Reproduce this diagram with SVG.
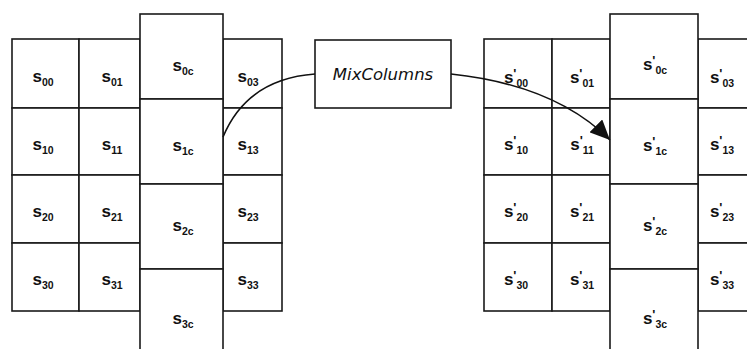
<svg xmlns="http://www.w3.org/2000/svg" width="747" height="349" viewBox="0 0 747 349">
<style>
.c{fill:#fff;stroke:#1a1a1a;stroke-width:1.6}
.t{font-family:"Liberation Sans",Arial,sans-serif;font-weight:bold;font-size:17px;fill:#111;text-anchor:middle}
.sb{font-size:10.5px}
.p{font-size:13px}
.m{font-family:"DejaVu Sans","Liberation Sans",sans-serif;font-style:italic;font-size:16.5px;fill:#111;text-anchor:middle}
.e{fill:none;stroke:#111;stroke-width:1.6}
</style>
<defs>
<marker id="ah" markerUnits="userSpaceOnUse" markerWidth="22" markerHeight="18" refX="20" refY="9" orient="auto">
<path d="M0,0 L20,9 L0,18 Z" fill="#111"/>
</marker>
</defs>
<rect width="747" height="349" fill="#fff"/>
<g id="left-state">
<g id="s00"><rect class="c" x="12" y="39" width="67" height="69"/><text class="t" x="43" y="82">s<tspan class="sb" dy="4">00</tspan></text></g>
<g id="s01"><rect class="c" x="79" y="39" width="61" height="69"/><text class="t" x="112" y="82">s<tspan class="sb" dy="4">01</tspan></text></g>
<g id="s03"><rect class="c" x="223" y="39" width="59" height="69"/><text class="t" x="248" y="82">s<tspan class="sb" dy="4">03</tspan></text></g>
<g id="s10"><rect class="c" x="12" y="108" width="67" height="67"/><text class="t" x="43" y="150">s<tspan class="sb" dy="4">10</tspan></text></g>
<g id="s11"><rect class="c" x="79" y="108" width="61" height="67"/><text class="t" x="112" y="150">s<tspan class="sb" dy="4">11</tspan></text></g>
<g id="s13"><rect class="c" x="223" y="108" width="59" height="67"/><text class="t" x="248" y="150">s<tspan class="sb" dy="4">13</tspan></text></g>
<g id="s20"><rect class="c" x="12" y="175" width="67" height="68"/><text class="t" x="43" y="217">s<tspan class="sb" dy="4">20</tspan></text></g>
<g id="s21"><rect class="c" x="79" y="175" width="61" height="68"/><text class="t" x="112" y="217">s<tspan class="sb" dy="4">21</tspan></text></g>
<g id="s23"><rect class="c" x="223" y="175" width="59" height="68"/><text class="t" x="248" y="217">s<tspan class="sb" dy="4">23</tspan></text></g>
<g id="s30"><rect class="c" x="12" y="243" width="67" height="68"/><text class="t" x="43" y="285">s<tspan class="sb" dy="4">30</tspan></text></g>
<g id="s31"><rect class="c" x="79" y="243" width="61" height="68"/><text class="t" x="112" y="285">s<tspan class="sb" dy="4">31</tspan></text></g>
<g id="s33"><rect class="c" x="223" y="243" width="59" height="68"/><text class="t" x="248" y="285">s<tspan class="sb" dy="4">33</tspan></text></g>
<g id="s0c"><rect class="c" x="140" y="14" width="83" height="85"/><text class="t" x="183" y="71">s<tspan class="sb" dy="4">0c</tspan></text></g>
<g id="s1c"><rect class="c" x="140" y="99" width="83" height="85"/><text class="t" x="183" y="151">s<tspan class="sb" dy="4">1c</tspan></text></g>
<g id="s2c"><rect class="c" x="140" y="184" width="83" height="85"/><text class="t" x="183" y="231">s<tspan class="sb" dy="4">2c</tspan></text></g>
<g id="s3c"><rect class="c" x="140" y="269" width="83" height="90"/><text class="t" x="183" y="324">s<tspan class="sb" dy="4">3c</tspan></text></g>
</g>
<g id="mixcolumns"><rect class="c" x="315" y="40" width="136" height="68"/><text class="m" x="383" y="80">MixColumns</text></g>
<g id="right-state">
<g id="sp00"><rect class="c" x="484" y="39" width="68" height="69"/><text class="t" x="516" y="83">s<tspan class="p" dy="-5">'</tspan><tspan class="sb" dy="9">00</tspan></text></g>
<g id="sp01"><rect class="c" x="552" y="39" width="58" height="69"/><text class="t" x="582" y="83">s<tspan class="p" dy="-5">'</tspan><tspan class="sb" dy="9">01</tspan></text></g>
<g id="sp03"><rect class="c" x="698" y="39" width="60" height="69"/><text class="t" x="722" y="83">s<tspan class="p" dy="-5">'</tspan><tspan class="sb" dy="9">03</tspan></text></g>
<g id="sp10"><rect class="c" x="484" y="108" width="68" height="67"/><text class="t" x="516" y="150">s<tspan class="p" dy="-5">'</tspan><tspan class="sb" dy="9">10</tspan></text></g>
<g id="sp11"><rect class="c" x="552" y="108" width="58" height="67"/><text class="t" x="582" y="150">s<tspan class="p" dy="-5">'</tspan><tspan class="sb" dy="9">11</tspan></text></g>
<g id="sp13"><rect class="c" x="698" y="108" width="60" height="67"/><text class="t" x="722" y="150">s<tspan class="p" dy="-5">'</tspan><tspan class="sb" dy="9">13</tspan></text></g>
<g id="sp20"><rect class="c" x="484" y="175" width="68" height="68"/><text class="t" x="516" y="217">s<tspan class="p" dy="-5">'</tspan><tspan class="sb" dy="9">20</tspan></text></g>
<g id="sp21"><rect class="c" x="552" y="175" width="58" height="68"/><text class="t" x="582" y="217">s<tspan class="p" dy="-5">'</tspan><tspan class="sb" dy="9">21</tspan></text></g>
<g id="sp23"><rect class="c" x="698" y="175" width="60" height="68"/><text class="t" x="722" y="217">s<tspan class="p" dy="-5">'</tspan><tspan class="sb" dy="9">23</tspan></text></g>
<g id="sp30"><rect class="c" x="484" y="243" width="68" height="68"/><text class="t" x="516" y="285">s<tspan class="p" dy="-5">'</tspan><tspan class="sb" dy="9">30</tspan></text></g>
<g id="sp31"><rect class="c" x="552" y="243" width="58" height="68"/><text class="t" x="582" y="285">s<tspan class="p" dy="-5">'</tspan><tspan class="sb" dy="9">31</tspan></text></g>
<g id="sp33"><rect class="c" x="698" y="243" width="60" height="68"/><text class="t" x="722" y="285">s<tspan class="p" dy="-5">'</tspan><tspan class="sb" dy="9">33</tspan></text></g>
<g id="sp0c"><rect class="c" x="610" y="14" width="88" height="85"/><text class="t" x="655" y="70">s<tspan class="p" dy="-5">'</tspan><tspan class="sb" dy="9">0c</tspan></text></g>
<g id="sp1c"><rect class="c" x="610" y="99" width="88" height="85"/><text class="t" x="655" y="151">s<tspan class="p" dy="-5">'</tspan><tspan class="sb" dy="9">1c</tspan></text></g>
<g id="sp2c"><rect class="c" x="610" y="184" width="88" height="85"/><text class="t" x="655" y="231">s<tspan class="p" dy="-5">'</tspan><tspan class="sb" dy="9">2c</tspan></text></g>
<g id="sp3c"><rect class="c" x="610" y="269" width="88" height="90"/><text class="t" x="655" y="324">s<tspan class="p" dy="-5">'</tspan><tspan class="sb" dy="9">3c</tspan></text></g>
</g>
<g id="connectors">
<path class="e" d="M223,137 Q247,79 315,74"/>
<path class="e" d="M451,74 Q555,85 610,140" marker-end="url(#ah)"/>
</g>
</svg>
